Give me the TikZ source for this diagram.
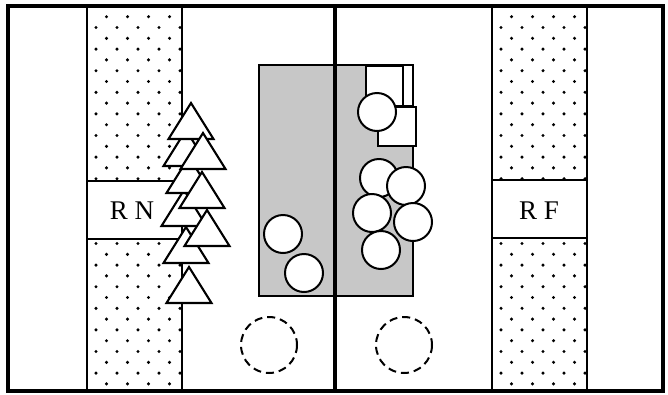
\documentclass[tikz,border=0pt]{standalone}
\usepackage{fontspec}
\setmainfont{Liberation Serif}
\begin{document}
\begin{tikzpicture}[x=1pt,y=-1pt,
    edge/.style={line width=1.9pt},
    tree/.style={draw,fill=white,line width=2.1pt,line join=miter},
    bush/.style={draw,fill=white,line width=2pt},
    gone/.style={draw,line width=2pt,dash pattern=on 8pt off 5pt},
    lbl/.style={font=\fontsize{27}{27}\selectfont}]
    \useasboundingbox (0,0) rectangle (668,394);
    % dotted strips
    \foreach \xa in {87,492}{
        \begin{scope}
            \clip (\xa,6) rectangle (\xa+95,391);
            \foreach \r in {0,...,36}{
                \pgfmathsetmacro\off{(1-mod(\r,2))*10.5}
                \foreach \c in {0,...,5}
                    \fill (\xa+9+\off+\c*21,16.7+\r*10.8) circle (1.7);
            }
        \end{scope}
    }
    \fill[white] (87,181) rectangle (182,239);
    \fill[white] (492,180) rectangle (587,238);
    \draw[edge] (87,6) -- (87,391);
    \draw[edge] (182,6) -- (182,391);
    \draw[edge] (87,181) -- (182,181);
    \draw[edge] (87,239) -- (182,239);
    \draw[edge] (492,6) -- (492,391);
    \draw[edge] (587,6) -- (587,391);
    \draw[edge] (492,180) -- (587,180);
    \draw[edge] (492,238) -- (587,238);
    % grey bed
    \filldraw[edge,fill=black!22] (259,65) rectangle (413,296);
    \filldraw[edge,fill=white] (366,66) rectangle (403,106);
    \filldraw[edge,fill=white] (403,65) rectangle (413,106);
    \filldraw[edge,fill=white] (378,107) rectangle (416,146);
    % frame and middle line
    \draw[line width=3.6pt] (8,6) rectangle (663,391);
    \draw[line width=3.6pt] (335,6) -- (335,391);
    \node[lbl] (rn) at (132,211) {R N};
    \node[lbl] (rf) at (539,211) {R F};
    % trees
    \foreach \ax/\ay in {189/267,186/227,184/190,189/157,186/130,191/103,207/210,202/172,203/133}
        \draw[tree] (\ax,\ay) -- (\ax-22.5,\ay+36) -- (\ax+22.5,\ay+36) -- cycle;
    % shrubs
    \foreach \cx/\cy in {377/112,379/178,406/186,372/213,413/222,381/250,283/234,304/273}
        \draw[bush] (\cx,\cy) circle (19);
    \draw[gone] (269,345) circle (28);
    \draw[gone] (404,345) circle (28);
\end{tikzpicture}
\end{document}
